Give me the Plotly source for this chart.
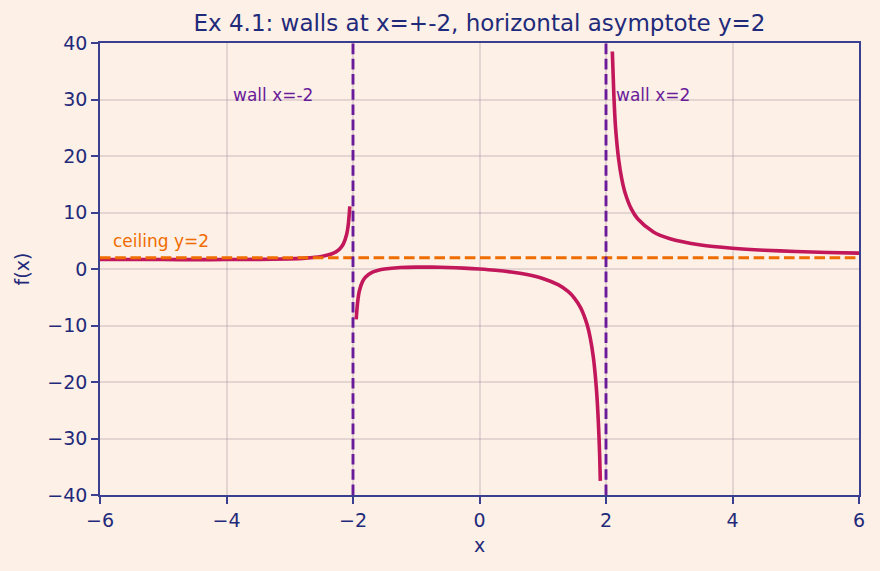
import plotly.graph_objects as go

# Data (three branches of the curve)
x_left = [-6.0, -5.5, -5.0, -4.5, -4.0, -3.5, -3.0, -2.75, -2.5, -2.4, -2.3, -2.25, -2.2, -2.15, -2.1, -2.075, -2.05]
y_left = [1.69, 1.68, 1.67, 1.66, 1.67, 1.70, 1.80, 1.93, 2.22, 2.46, 2.85, 3.18, 3.67, 4.49, 6.15, 7.81, 11.1]

x_mid = [-1.95, -1.925, -1.9, -1.85, -1.8, -1.7, -1.6, -1.5, -1.25, -1.0, -0.75, -0.5, -0.25, 0.0,
         0.25, 0.5, 0.75, 1.0, 1.25, 1.4, 1.5, 1.6, 1.7, 1.75, 1.8, 1.85, 1.88, 1.9, 1.91]
y_mid = [-8.9, -5.7, -3.9, -2.24, -1.42, -0.61, -0.22, 0.0, 0.26, 0.33, 0.33, 0.27, 0.16, 0.0,
         -0.22, -0.53, -0.98, -1.67, -2.82, -3.98, -5.14, -6.89, -9.80, -12.13, -15.63, -21.46, -27.3, -33.1, -37.5]

x_right = [2.1, 2.125, 2.15, 2.2, 2.25, 2.3, 2.4, 2.5, 2.75, 3.0, 3.5, 4.0, 4.5, 5.0, 5.5, 6.0]
y_right = [38.5, 30.5, 25.2, 19.4, 15.9, 13.55, 10.64, 8.89, 6.56, 5.4, 4.24, 3.67, 3.32, 3.10, 2.93, 2.81]

walls = [-2, 2]
ceiling = 2
x_ticks = [-6, -4, -2, 0, 2, 4, 6]
y_ticks = [-40, -30, -20, -10, 0, 10, 20, 30, 40]

BG = "#fdf0e6"
NAVY = "#1f2a7a"
AXIS = "#3a3f8f"
CURVE = "#c2185b"
WALL = "#6a1b9a"
CEIL = "#ef6c00"
FONT = "DejaVu Sans"
DASH = "10.6px,4.6px"

fig = go.Figure()

for xs, ys in [(x_left, y_left), (x_mid, y_mid), (x_right, y_right)]:
    fig.add_trace(go.Scatter(x=xs, y=ys, mode="lines",
                             line=dict(color=CURVE, width=3.6, shape="spline", smoothing=0.8),
                             showlegend=False))

# ceiling line
fig.add_trace(go.Scatter(x=[-6, 6], y=[ceiling, ceiling], mode="lines",
                         line=dict(color=CEIL, width=2.9, dash=DASH),
                         hoverinfo="skip", showlegend=False))
# walls
for w in walls:
    fig.add_trace(go.Scatter(x=[w, w], y=[-40, 40], mode="lines",
                             line=dict(color=WALL, width=2.9, dash=DASH),
                             hoverinfo="skip", showlegend=False))

fig.add_annotation(x=-3.93, y=30.8, text="wall x=-2", showarrow=False, xanchor="left", yanchor="middle",
                   font=dict(family=FONT, size=17, color=WALL))
fig.add_annotation(x=2.13, y=30.8, text="wall x=2", showarrow=False, xanchor="left", yanchor="middle",
                   font=dict(family=FONT, size=17, color=WALL))
fig.add_annotation(x=-5.82, y=5.0, text="ceiling y=2", showarrow=False, xanchor="left", yanchor="middle",
                   font=dict(family=FONT, size=17, color=CEIL))

axis_common = dict(showline=True, linecolor=AXIS, linewidth=1.5, mirror=True,
                   ticks="outside", ticklen=7, tickcolor=AXIS, tickwidth=1.5,
                   showgrid=True, gridcolor="rgba(140,120,140,0.22)", gridwidth=1.5,
                   zeroline=False, tickfont=dict(family=FONT, size=19, color=NAVY))

fig.update_layout(
    width=880, height=571,
    paper_bgcolor=BG, plot_bgcolor=BG,
    margin=dict(l=100, r=21, t=43, b=76),
    title=dict(text="Ex 4.1: walls at x=+-2, horizontal asymptote y=2", x=0.5, xref="paper",
               xanchor="center", y=1 - 23 / 571, yanchor="middle",
               font=dict(family=FONT, size=23, color=NAVY)),
    xaxis=dict(range=[-6, 6], tickvals=x_ticks,
               title=dict(text="x", font=dict(family=FONT, size=19, color=NAVY), standoff=9),
               **axis_common),
    yaxis=dict(range=[-40, 40], tickvals=y_ticks,
               title=dict(text="f(x)", font=dict(family=FONT, size=19, color=NAVY), standoff=13),
               **axis_common),
    font=dict(family=FONT, color=NAVY),
)

fig.write_html("out.html")
